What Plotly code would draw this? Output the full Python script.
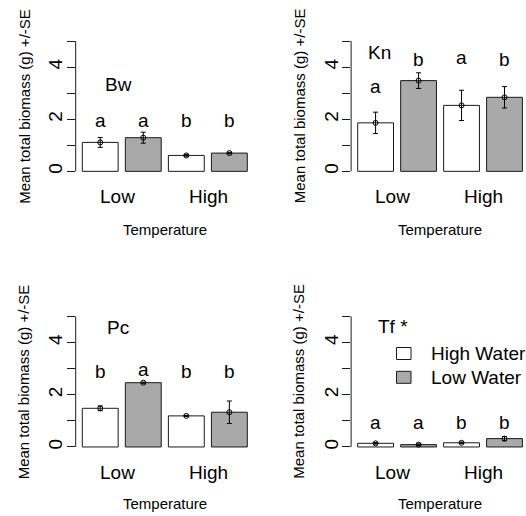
import plotly.graph_objects as go

# ---------------- data ----------------
temperature = ["Low", "High"]
water = ["High Water", "Low Water"]
species = ["Bw", "Kn", "Pc", "Tf *"]

# order of bars in each panel: Low/HighWater, Low/LowWater, High/HighWater, High/LowWater
bw_mean = [1.11, 1.29, 0.61, 0.70]
bw_se = [0.19, 0.21, 0.03, 0.03]
kn_mean = [1.86, 3.48, 2.53, 2.84]
kn_se = [0.41, 0.30, 0.58, 0.41]
pc_mean = [1.48, 2.46, 1.19, 1.33]
pc_se = [0.09, 0.02, 0.02, 0.43]
tf_mean = [0.14, 0.09, 0.16, 0.32]
tf_se = [0.03, 0.03, 0.03, 0.08]

bw_letters = ["a", "a", "b", "b"]
kn_letters = ["a", "b", "a", "b"]
pc_letters = ["b", "a", "b", "b"]
tf_letters = ["a", "a", "b", "b"]

y_ticks = [0, 1, 2, 3, 4, 5]
y_ticktext = ["0", "", "2", "", "4", ""]

# ---------------- layout helpers (positions / styles) ----------------
W, H = 526, 516
FONT = "Liberation Sans, Arial, Helvetica, sans-serif"
GRAY = "#A9A9A9"
LINE = "#1a1a1a"
bar_x = [0.7 + 1.2 * i for i in range(4)]
fills = ["white", GRAY, "white", GRAY]


def px_x(p):
    return p / W


def px_y(p):
    return 1 - p / H


panels = [
    dict(mean=bw_mean, se=bw_se, letters=bw_letters, name=species[0],
         xd=[px_x(75.7), px_x(253.9)], xr=[0.016, 4.984],
         yd=[px_y(176.54), px_y(35.79)], lab=(1.22, 3.35),
         letter_y=[1.95, 1.95, 1.95, 1.95], top=True),
    dict(mean=kn_mean, se=kn_se, letters=kn_letters, name=species[1],
         xd=[px_x(351.1), 1.0], xr=[0.016, 4.90],
         yd=[px_y(176.54), px_y(35.79)], lab=(0.80, 4.55),
         letter_y=[3.25, 4.29, 4.37, 4.29], top=True),
    dict(mean=pc_mean, se=pc_se, letters=pc_letters, name=species[2],
         xd=[px_x(75.7), px_x(253.9)], xr=[0.016, 4.984],
         yd=[px_y(452.2), px_y(311.1)], lab=(1.20, 4.58),
         letter_y=[2.88, 2.97, 2.88, 2.88], top=False),
    dict(mean=tf_mean, se=tf_se, letters=tf_letters, name=species[3],
         xd=[px_x(351.1), 1.0], xr=[0.016, 4.90],
         yd=[px_y(452.2), px_y(311.1)], lab=(1.19, 4.62),
         letter_y=[0.94, 0.94, 0.94, 0.94], top=False),
]

fig = go.Figure()
annotations = []
shapes = []
layout = {}


def txt(text, x, y, xref, yref, size, **kw):
    d = dict(text=text, x=x, y=y, xref=xref, yref=yref, showarrow=False,
             xanchor="center", yanchor="middle",
             font=dict(size=size, color="black", family=FONT))
    d.update(kw)
    return d


for i, p in enumerate(panels):
    k = "" if i == 0 else str(i + 1)
    xa, ya = "x" + k, "y" + k
    # bars: high water and low water as two series
    for w in range(2):
        idx = [w, w + 2]
        fig.add_trace(go.Bar(
            x=[bar_x[j] for j in idx], y=[p["mean"][j] for j in idx],
            width=1.0, name=water[w], showlegend=False,
            marker=dict(color=fills[w], line=dict(color=LINE, width=1)),
            xaxis=xa, yaxis=ya))
    # means with SE bars
    fig.add_trace(go.Scatter(
        x=bar_x, y=p["mean"], mode="markers", showlegend=False,
        marker=dict(symbol="circle-open", size=5, color="black",
                    line=dict(width=1, color="black")),
        error_y=dict(type="data", array=p["se"], visible=True,
                     color="black", thickness=1, width=2.5),
        xaxis=xa, yaxis=ya))

    layout["xaxis" + k] = dict(domain=p["xd"], range=p["xr"], visible=False,
                               anchor=ya, fixedrange=True)
    layout["yaxis" + k] = dict(domain=p["yd"], range=[-0.2, 5.2], anchor=xa,
                               tickmode="array", tickvals=y_ticks,
                               ticktext=y_ticktext, ticks="outside", ticklen=8,
                               tickwidth=1, tickcolor=LINE, tickangle=-90,
                               showline=False, showgrid=False, zeroline=False,
                               tickfont=dict(size=19, color="black", family=FONT),
                               ticklabelstandoff=-3, fixedrange=True)
    # y axis line from 0 to 5
    shapes.append(dict(type="line", xref=xa + " domain", yref=ya,
                       x0=0, x1=0, y0=y_ticks[0], y1=y_ticks[-1],
                       line=dict(color=LINE, width=1)))
    # significance letters
    for j in range(4):
        annotations.append(txt(p["letters"][j], bar_x[j], p["letter_y"][j], xa, ya, 19))
    # species label
    annotations.append(txt(p["name"], p["lab"][0], p["lab"][1], xa, ya, 19))
    # temperature category labels
    lab_px = 196.7 if p["top"] else 472.0
    ttl_px = 229.0 if p["top"] else 503.7
    for t, xv in zip(temperature, [1.18, 3.72]):
        annotations.append(txt(t, xv, px_y(lab_px), xa, "paper", 19))
    annotations.append(txt("Temperature", 2.5, px_y(ttl_px), xa, "paper", 15))
    # y axis title
    ax_px = p["xd"][0] * W
    mid = (p["yd"][0] + p["yd"][1]) / 2
    annotations.append(txt("Mean total biomass (g) +/-SE", px_x(ax_px - 52), mid,
                           "paper", "paper", 15, textangle=-90))

# legend (drawn in the Tf panel)
leg_boxes = [(347.5, 359.5), (371.3, 383.3)]
leg_text_y = [353.5, 377.2]
for w in range(2):
    y0, y1 = leg_boxes[w]
    shapes.append(dict(type="rect", xref="paper", yref="paper",
                       x0=px_x(396.5), x1=px_x(411.0), y0=px_y(y1), y1=px_y(y0),
                       fillcolor=fills[w], line=dict(color=LINE, width=1)))
    annotations.append(txt(water[w], px_x(429.3), px_y(leg_text_y[w]),
                           "paper", "paper", 19, xanchor="left"))

fig.update_layout(**layout)
fig.update_layout(
    width=W, height=H, margin=dict(l=0, r=0, t=0, b=0),
    paper_bgcolor="white", plot_bgcolor="white",
    barmode="overlay", showlegend=False, hovermode=False,
    annotations=annotations, shapes=shapes,
    font=dict(family=FONT, color="black"),
)

# remove the default page margin so the 526x516 figure fills the window exactly
fig.write_html(
    "out.html",
    config={"displayModeBar": False, "staticPlot": True},
    post_script="document.body.style.margin='0';document.body.style.overflow='hidden';",
)
